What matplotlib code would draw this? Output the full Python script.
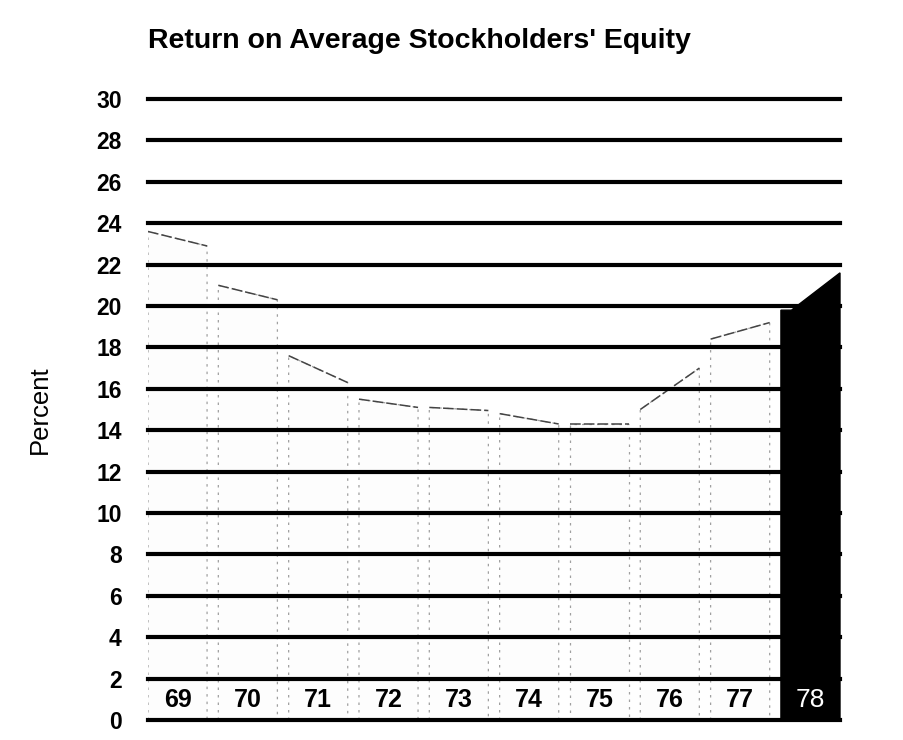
import matplotlib
matplotlib.use("Agg")
import matplotlib.pyplot as plt
from matplotlib.patches import Polygon

plt.rcParams['font.family'] = ['Liberation Sans', 'DejaVu Sans']

years = ['69', '70', '71', '72', '73', '74', '75', '76', '77', '78']
roe_front = [23.6, 21.0, 17.6, 15.5, 15.1, 14.8, 14.3, 15.0, 18.4, 19.8]
roe_back = [22.9, 20.3, 16.3, 15.1, 14.95, 14.3, 14.3, 17.0, 19.2, 21.6]
y_ticks = list(range(0, 31, 2))
title = "Return on Average Stockholders' Equity"
ylabel = "Percent"

fig = plt.figure(figsize=(9.04, 7.40), dpi=100)
ax = fig.add_axes([148/904, 20/740, 692/904, 621/740])

w = 0.84
flat = 0.15
for i, (yr, a, b) in enumerate(zip(years, roe_front, roe_back)):
    x0, x1 = i - w/2, i + w/2
    last = (i == len(years) - 1)
    if last:
        pts = [(x0, 0), (x0, a), (x0 + flat, a), (x1, b), (x1, 0)]
        ax.add_patch(Polygon(pts, closed=True, facecolor='black',
                             edgecolor='black', lw=1, zorder=5,
                             clip_on=False))
        ax.text(i, 0.95, yr, ha='center', va='center', color='white',
                fontsize=19, zorder=7)
    else:
        pts = [(x0, 0), (x0, a), (x1, b), (x1, 0)]
        ax.add_patch(Polygon(pts, closed=True, facecolor='#fdfdfd',
                             edgecolor='#a0a0a0', lw=0.9, ls=(0, (2, 4)),
                             zorder=2))
        ax.plot([x0, x1], [a, b], color='#444444', lw=1.1,
                ls=(0, (7, 2)), zorder=3)
        ax.text(i, 0.95, yr, ha='center', va='center', color='black',
                fontsize=18, fontweight='heavy', zorder=7)

for t in y_ticks:
    ax.axhline(t, color='black', lw=3.0, zorder=4, clip_on=False)

ax.set_xlim(-w/2, len(years) - 1 + w/2)
ax.set_ylim(0, 30)
ax.set_yticks(y_ticks)
ax.set_yticklabels([str(t) for t in y_ticks], fontsize=16.5, fontweight='bold')
ax.tick_params(axis='y', length=0, pad=19)
ax.set_xticks([])
for s in ax.spines.values():
    s.set_visible(False)

ax.set_ylabel(ylabel, fontsize=18.5, labelpad=32)
fig.text(148/904, 1 - 41/740, title, ha='left', va='center',
         fontsize=20.5, fontweight='bold')

fig.savefig('out.png', dpi=100)
